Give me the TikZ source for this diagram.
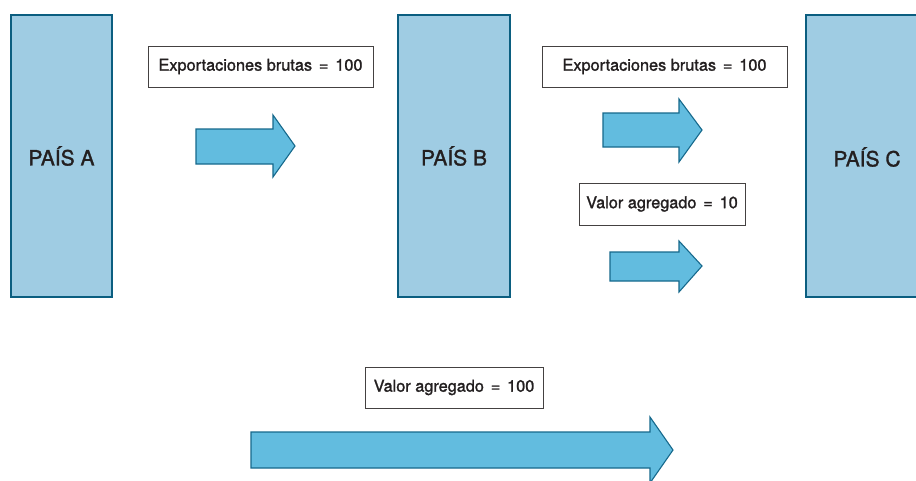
\documentclass[tikz,border=0pt]{standalone}
\usepackage{fontspec}
\setmainfont{TeX Gyre Heros}
\newfontface\medfont{TeX Gyre Heros}[FakeBold=1.4]
\definecolor{boxfill}{HTML}{9FCCE3}
\definecolor{boxline}{HTML}{0B5E80}
\definecolor{arrfill}{HTML}{62BCDF}
\definecolor{arrline}{HTML}{16698C}
\definecolor{txt}{HTML}{231F20}
\newcommand\eqsp{\hspace{0.42em}=\hspace{0.42em}}
\begin{document}
\begin{tikzpicture}[x=1pt,y=-1pt,
  country/.style={draw=boxline,fill=boxfill,line width=2.4pt,text=txt,font=\medfont\fontsize{21}{24}\selectfont},
  lbl/.style={draw=txt!85,fill=white,line width=0.9pt,text=txt,font=\medfont\fontsize{16.3}{18}\selectfont},
  barrow/.style={draw=arrline,fill=arrfill,line width=1.1pt,line join=miter}]
\useasboundingbox (0,0) rectangle (916,480);
\clip (0,0) rectangle (916,480);
% countries
\draw[country] (11,15) rectangle (112,297) node[midway] (A) {PAÍS A};
\draw[country] (398,15) rectangle (510,297) node[midway] (B) {PAÍS B};
\draw[country] (806,15) rectangle (930,297);
\node[text=txt,font=\medfont\fontsize{21}{24}\selectfont] (C) at (867,157) {PAÍS C};
% labels
\node[lbl,minimum width=225pt,minimum height=41pt] (l1) at (260.5,66.5) {Exportaciones brutas\eqsp 100};
\node[lbl,minimum width=245pt,minimum height=41pt] (l2) at (664.5,66.5) {Exportaciones brutas\eqsp 100};
\node[lbl,minimum width=166pt,minimum height=42pt] (l3) at (662,204) {Valor agregado\eqsp 10};
\node[lbl,minimum width=178pt,minimum height=41pt] (l4) at (454,387.5) {Valor agregado\eqsp 100};
% block arrows
\draw[barrow] (196,129) -- (273,129) -- (273,115) -- (295,146) -- (273,177) -- (273,164) -- (196,164) -- cycle;
\draw[barrow] (603,113) -- (679,113) -- (679,99) -- (702,130) -- (679,162) -- (679,147) -- (603,147) -- cycle;
\draw[barrow] (610,252) -- (679,252) -- (679,241) -- (702,266) -- (679,292) -- (679,281) -- (610,281) -- cycle;
\draw[barrow] (251,432) -- (650,432) -- (650,417) -- (673,450) -- (650,483) -- (650,468) -- (251,468) -- cycle;
\end{tikzpicture}
\end{document}
